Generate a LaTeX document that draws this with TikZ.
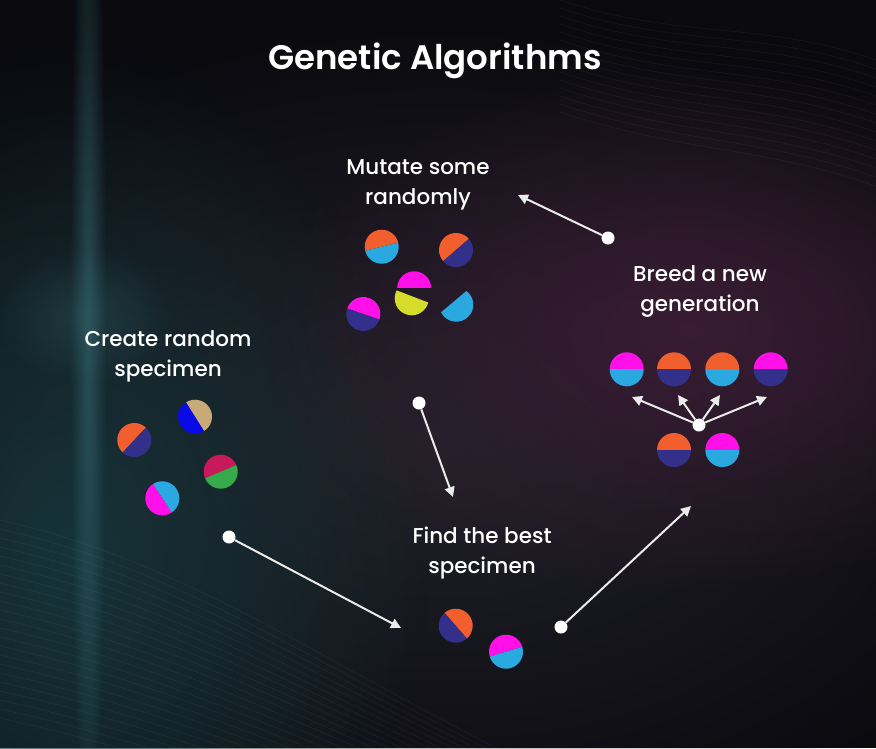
\documentclass[tikz,border=0pt]{standalone}
\usepackage{fontspec}
\setmainfont{Poppins}
\newfontfamily\capfont{Poppins}[UprightFont=* Medium,BoldFont=* SemiBold]
\usetikzlibrary{arrows.meta,fadings}

\definecolor{bgdark}{RGB}{10,10,15}
\definecolor{bgmid}{RGB}{34,34,42}
\definecolor{bgteal}{RGB}{22,52,58}
\definecolor{bgstreak}{RGB}{55,112,118}
\definecolor{bgpurple}{RGB}{58,28,52}
\definecolor{genorange}{RGB}{240,95,45}
\definecolor{gencyan}{RGB}{42,168,224}
\definecolor{gennavy}{RGB}{51,48,140}
\definecolor{genmagenta}{RGB}{255,16,232}
\definecolor{genyellow}{RGB}{214,220,42}
\definecolor{gentan}{RGB}{200,170,120}
\definecolor{genblue}{RGB}{10,10,230}
\definecolor{gencrimson}{RGB}{200,25,90}
\definecolor{gengreen}{RGB}{55,170,75}

\tikzfading[name=glow,inner color=transparent!0,outer color=transparent!100]

% #1 offset of the cut, #2 #3 centre, #4 tilt, #5 upper colour, #6 lower colour
\newcommand{\gene}[6][0]{%
  \begin{scope}[shift={(#2,#3)},rotate=#4]
    \clip (0,0) circle (17);
    \fill[#5] (-18,-18) rectangle (18,#1);
    \fill[#6] (-18,#1) rectangle (18,18);
  \end{scope}}

\begin{document}
\begin{tikzpicture}[
    x=1pt,y=-1pt,
    title/.style={text=white,font=\capfont\fontsize{34}{38}\selectfont\bfseries},
    caption/.style={text=white,align=center,font=\capfont\fontsize{21.5}{30}\selectfont},
    dot/.style={circle,fill=white,inner sep=0pt,minimum size=13pt},
    arr/.style={draw=white!92!black,line width=2pt,-{Triangle[length=10pt,width=10pt]}},
    wave/.style={draw=white,opacity=0.05,line width=0.6pt}
]
    \useasboundingbox (0,0) rectangle (876,748);
    \fill[bgdark] (0,0) rectangle (876,748);
    \begin{scope}
        \clip (0,0) rectangle (876,748);
        \fill[bgmid,path fading=glow] (440,440) ellipse (640 and 420);
        \fill[bgteal,path fading=glow] (70,560) ellipse (360 and 520);
        \fill[bgpurple,path fading=glow] (690,330) ellipse (430 and 270);
        \fill[bgstreak,path fading=glow,opacity=0.55] (88,330) ellipse (18 and 560);
        \fill[bgstreak,path fading=glow,opacity=0.3] (85,315) ellipse (90 and 70);
        \foreach \i in {0,...,22}
            \draw[wave] (0,520+9*\i) .. controls (180,560+9*\i) and (320,660+7*\i) .. (520,760+5*\i);
        \foreach \i in {0,...,14}
            \draw[wave] (560,0+8*\i) .. controls (680,40+8*\i) and (760,20+9*\i) .. (876,60+9*\i);
    \end{scope}

    \node[title] (heading) at (435,61) {Genetic Algorithms};

    \node[caption] (mutate) at (418,185) {Mutate some\\randomly};
    \node[caption] (breed) at (700,291) {Breed a new\\generation};
    \node[caption] (create) at (168,356) {Create random\\specimen};
    \node[caption] (best) at (482,553) {Find the best\\specimen};

    \gene{381.7}{246.7}{14}{genorange}{gencyan}
    \gene{456}{250}{41}{genorange}{gennavy}
    \gene{414.2}{288.3}{0}{genmagenta}{opacity=0}
    \gene[-2]{411.7}{298.3}{-21}{opacity=0}{genyellow}
    \gene{363.3}{314}{-19}{genmagenta}{gennavy}
    \gene[-4]{456.3}{304.7}{40}{opacity=0}{gencyan}

    \gene{134.3}{440}{47}{genorange}{gennavy}
    \gene{195}{416.7}{-58}{gentan}{genblue}
    \gene{220.7}{471.7}{23}{gencrimson}{gengreen}
    \gene{162.3}{498.3}{-57}{gencyan}{genmagenta}

    \gene{626.7}{369.3}{0}{genmagenta}{gencyan}
    \gene{674}{369.3}{0}{genorange}{gennavy}
    \gene{722.3}{369.3}{0}{genorange}{gencyan}
    \gene{770.7}{369.3}{0}{genmagenta}{gennavy}
    \gene{674}{450}{0}{genorange}{gennavy}
    \gene{722.3}{450}{0}{genmagenta}{gencyan}

    \gene{455.7}{625.7}{-49}{genorange}{gennavy}
    \gene{506}{651.7}{17}{genmagenta}{gencyan}

    \node[dot] (mutdot) at (608,238) {};
    \coordinate (muttip) at (518,195);
    \node[dot] (finddot) at (419,403) {};
    \coordinate (findtip) at (453,497);
    \node[dot] (createdot) at (229,537) {};
    \coordinate (createtip) at (401,628);
    \node[dot] (bestdot) at (561,627) {};
    \coordinate (besttip) at (691,506);
    \node[dot] (hub) at (699,425) {};
    \coordinate (kid1) at (632,397);
    \coordinate (kid2) at (678,395);
    \coordinate (kid3) at (720,395);
    \coordinate (kid4) at (767,397);

    \draw[arr] (mutdot) -- (muttip);
    \draw[arr] (finddot) -- (findtip);
    \draw[arr] (createdot) -- (createtip);
    \draw[arr] (bestdot) -- (besttip);
    \foreach \k in {kid1,kid2,kid3,kid4}
        \draw[arr] (hub) -- (\k);
\end{tikzpicture}
\end{document}
